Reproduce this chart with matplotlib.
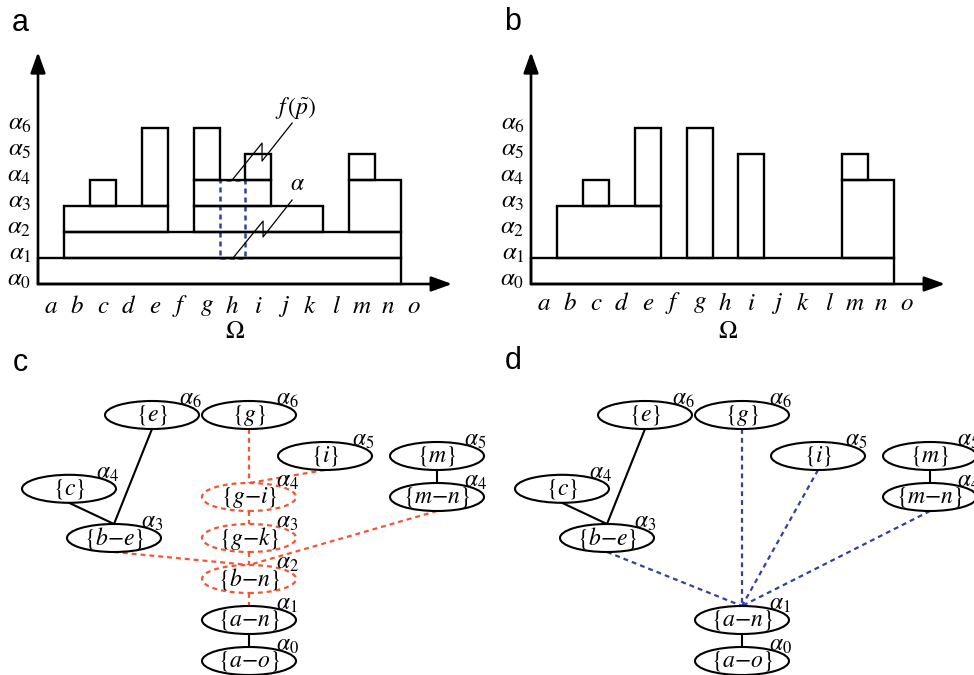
import matplotlib
matplotlib.use('Agg')
import matplotlib.pyplot as plt
from matplotlib.patches import Ellipse, Rectangle

plt.rcParams['mathtext.fontset'] = 'stix'

W, H = 974, 675
RED = '#ef5736'
BLUE = '#33409f'

LETTERS = list('abcdefghijklmno')
N_LEVELS = 7

# panel a: boxes of the level sets (cell left, cell right, level bottom, level top)
A_X0 = [0, 1, 1, 2, 4, 6, 6, 6, 8, 12, 12]
A_X1 = [14, 14, 5, 3, 5, 11, 9, 7, 9, 14, 13]
A_Y0 = [0, 1, 2, 3, 3, 2, 3, 4, 4, 2, 4]
A_Y1 = [1, 2, 3, 4, 6, 3, 4, 6, 5, 4, 5]
# dashed column h
HL_X = [7, 8]
HL_Y = [1, 4]
# leader lines with the break mark
F_LEADER_X = [7.52, 8.64, 8.64, 9.80]
F_LEADER_Y = [4.04, 5.42, 4.73, 6.19]
ALPHA_LEADER_X = [7.52, 8.68, 8.68, 9.80]
ALPHA_LEADER_Y = [1.0, 2.42, 1.81, 3.23]

# panel b
B_X0 = [0, 1, 2, 4, 6, 8, 12, 12]
B_X1 = [14, 5, 3, 5, 7, 9, 14, 13]
B_Y0 = [0, 1, 3, 3, 1, 1, 1, 4]
B_Y1 = [1, 3, 4, 6, 6, 5, 4, 5]

# trees (c, d)
NODES = ['e', 'g', 'i', 'm', 'c', 'g-i', 'm-n', 'b-e', 'g-k', 'b-n', 'a-n', 'a-o']
NODE_X = [152, 249, 325, 437, 69, 249, 437, 114, 249, 249, 249, 249]
NODE_LEVEL = [6, 6, 5, 5, 4.2, 4, 4, 3, 3, 2, 1, 0]
NODE_ALPHA = [6, 6, 5, 5, 4, 4, 4, 3, 3, 2, 1, 0]
C_DASHED_NODES = ['g-i', 'g-k', 'b-n']
SOLID_EDGES = [('e', 'b-e'), ('c', 'b-e'), ('m', 'm-n'), ('a-n', 'a-o')]
C_DASHED_EDGES = [('g', 'g-i'), ('i', 'g-i'), ('g-i', 'g-k'), ('g-k', 'b-n'),
                  ('b-e', 'b-n'), ('m-n', 'b-n'), ('b-n', 'a-n')]
D_DASHED_EDGES = [('b-e', 'a-n'), ('g', 'a-n'), ('i', 'a-n'), ('m-n', 'a-n')]

ELL_W = 94
ELL_H = 28 / 41.


def make_axes(fig, px0, py0, sx, sy, xlim, ylim):
    # px0, py0 = pixel of data origin (from top left), sx, sy = pixels per unit
    left = px0 + xlim[0] * sx
    right = px0 + xlim[1] * sx
    top = py0 - ylim[1] * sy
    bottom = py0 - ylim[0] * sy
    ax = fig.add_axes([left / W, 1 - bottom / H, (right - left) / W, (bottom - top) / H])
    ax.set_xlim(xlim)
    ax.set_ylim(ylim)
    ax.axis('off')
    return ax


def level_plot(ax, x0, x1, y0, y1, lety):
    for a, b, c, d in zip(x0, x1, y0, y1):
        ax.add_patch(Rectangle((a, c), b - a, d - c, fill=False, lw=1.7, ec='k', zorder=3))
    arrow = dict(arrowstyle='-|>,head_length=1.25,head_width=0.45', lw=1.9, color='k',
                 mutation_scale=10, shrinkA=0, shrinkB=0)
    ax.annotate('', xy=(0, 8.92), xytext=(0, 0), arrowprops=arrow)
    ax.annotate('', xy=(15.97, 0), xytext=(0, 0), arrowprops=arrow)
    for k in range(N_LEVELS):
        ax.text(-0.25, k + 0.2, r'$\alpha_{%d}$' % k, ha='right', va='center', fontsize=18)
    for k, l in enumerate(LETTERS):
        ax.text(k + 0.5, lety, '$%s$' % l, ha='center', va='center', fontsize=18)
    ax.text(7.6, -1.8, r'$\Omega$', ha='center', va='center', fontsize=18)


def node_label(name):
    return r'$\{' + name.replace('-', '{-}') + r'\}$'


def tree_plot(ax, nodes, dashed_nodes, dashed_edges, dcolor):
    pos = {n: (x, y) for n, x, y in zip(NODES, NODE_X, NODE_LEVEL)}
    alph = dict(zip(NODES, NODE_ALPHA))
    for a, b in SOLID_EDGES:
        ax.plot([pos[a][0], pos[b][0]], [pos[a][1] - ELL_H / 2, pos[b][1] + ELL_H / 2],
                color='k', lw=1.5, zorder=1)
    for a, b in dashed_edges:
        ax.plot([pos[a][0], pos[b][0]], [pos[a][1] - ELL_H / 2, pos[b][1] + ELL_H / 2],
                color=dcolor, lw=1.6, ls=(0, (2.2, 1.8)), zorder=1)
    for n in nodes:
        x, y = pos[n]
        if n in dashed_nodes:
            ax.add_patch(Ellipse((x, y), ELL_W, ELL_H, fc='white', ec=dcolor, lw=1.6,
                                 ls=(0, (2.2, 1.8)), zorder=2))
        else:
            ax.add_patch(Ellipse((x, y), ELL_W, ELL_H, fc='white', ec='k', lw=1.5, zorder=2))
        ax.text(x, y, node_label(n), ha='center', va='center', fontsize=17, zorder=4)
        ax.text(x + 27, y + 0.42, r'$\alpha_{%d}$' % alph[n], ha='left', va='center',
                fontsize=17, zorder=4)


fig = plt.figure(figsize=(W / 100, H / 100), dpi=100)

ax_a = make_axes(fig, 38, 284, 25.93, 26, (-1.3, 16.6), (-2.3, 9.3))
level_plot(ax_a, A_X0, A_X1, A_Y0, A_Y1, -0.85)
ax_a.add_patch(Rectangle((HL_X[0], HL_Y[0]), HL_X[1] - HL_X[0], HL_Y[1] - HL_Y[0], fill=False,
                         ec=BLUE, lw=1.8, ls=(0, (2, 1.6)), zorder=2))
ax_a.plot(F_LEADER_X, F_LEADER_Y, color='k', lw=0.9, zorder=4)
ax_a.plot(ALPHA_LEADER_X, ALPHA_LEADER_Y, color='k', lw=0.9, zorder=4)
ax_a.text(9.95, 6.77, r'$f\,(\tilde{p})$', ha='center', va='center', fontsize=17)
ax_a.text(9.99, 3.88, r'$\alpha$', ha='center', va='center', fontsize=17)

ax_b = make_axes(fig, 531, 284, 25.93, 26, (-1.3, 16.6), (-2.3, 9.3))
level_plot(ax_b, B_X0, B_X1, B_Y0, B_Y1, -0.75)

ax_c = make_axes(fig, 0, 661, 1, 41, (0, 490), (-0.6, 6.9))
tree_plot(ax_c, NODES, C_DASHED_NODES, C_DASHED_EDGES, RED)

d_nodes = [n for n in NODES if n not in C_DASHED_NODES]
ax_d = make_axes(fig, 493, 661, 1, 41, (0, 490), (-0.6, 6.9))
tree_plot(ax_d, d_nodes, [], D_DASHED_EDGES, BLUE)

for lab, x, y in [('a', 20, 23), ('b', 513, 22), ('c', 20, 363), ('d', 513, 361)]:
    fig.text(x / W, 1 - y / H, lab, ha='center', va='center', fontsize=22,
             family='Liberation Sans')

fig.savefig('out.png', dpi=100)
